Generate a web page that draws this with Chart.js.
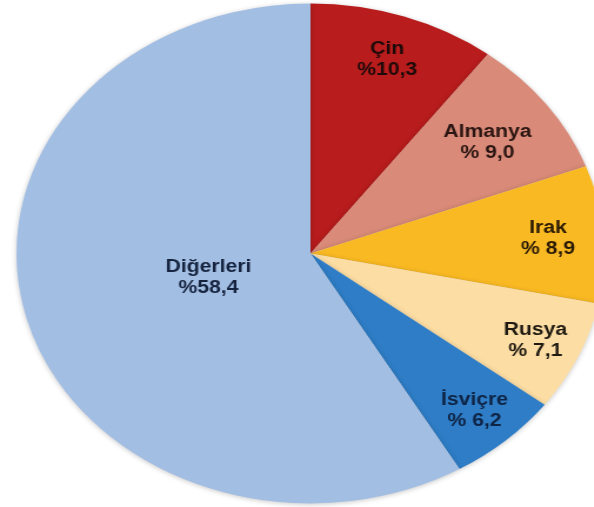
<!DOCTYPE html>
<html>
<head>
<meta charset="utf-8">
<script src="https://cdn.jsdelivr.net/npm/chart.js@4"></script>
<style>
  html, body { margin: 0; padding: 0; background: #fff; overflow: hidden; }
  #wrap { width: 594px; height: 507px; overflow: hidden; }
  #pie { transform-origin: 0 0; transform: scaleX(1.176); }
</style>
</head>
<body>
<div id="wrap"><canvas id="pie" width="514" height="507"></canvas></div>
<script>
// ülkeler ve payları (%)
const countries = ['Çin', 'Almanya', 'Irak', 'Rusya', 'İsviçre', 'Diğerleri'];
const shares = [10.3, 9.0, 8.9, 7.1, 6.2, 58.4];
const sliceColors = ['#B81C1C', '#D98A78', '#F9B923', '#FCDDA3', '#2E7DC6', '#A3BEE3'];

// label distance from centre, as fraction of radius
const labelRadius = [0.82, 0.75, 0.81, 0.84, 0.84, 0.36];
const labelColors = ['#1e0a0a', '#2a1512', '#2a1a05', '#1f1a12', '#0f2445', '#15233f'];

function pct(v) {
    const s = v.toFixed(1).replace('.', ',');
    return v < 10 ? '% ' + s : '%' + s;
}

const sliceLabels = {
    id: 'sliceLabels',
    afterDatasetsDraw(chart) {
        const ctx = chart.ctx;
        const arcs = chart.getDatasetMeta(0).data;
        ctx.save();
        ctx.font = 'bold 18px "Liberation Sans", Arial, sans-serif';
        ctx.textAlign = 'center';
        ctx.textBaseline = 'middle';
        arcs.forEach((arc, i) => {
            const mid = (arc.startAngle + arc.endAngle) / 2;
            const r = arc.outerRadius * labelRadius[i];
            const x = arc.x + Math.cos(mid) * r;
            const y = arc.y + Math.sin(mid) * r;
            ctx.fillStyle = labelColors[i];
            ctx.fillText(countries[i], x, y - 10);
            ctx.fillText(pct(shares[i]), x, y + 11);
        });
        ctx.restore();
    }
};

const pieShadow = {
    id: 'pieShadow',
    beforeDatasetsDraw(chart) {
        const ctx = chart.ctx;
        ctx.save();
        ctx.shadowColor = 'rgba(0,0,0,0.22)';
        ctx.shadowBlur = 5;
        ctx.shadowOffsetY = 1;
    },
    afterDatasetsDraw(chart) {
        chart.ctx.restore();
    }
};

new Chart(document.getElementById('pie').getContext('2d'), {
    type: 'pie',
    data: {
        labels: countries,
        datasets: [{
            data: shares,
            backgroundColor: sliceColors,
            borderWidth: 0
        }]
    },
    options: {
        responsive: false,
        animation: false,
        layout: { padding: { left: 14, right: 0, top: 3.5, bottom: 3.5 } },
        plugins: {
            legend: { display: false },
            tooltip: { enabled: false }
        }
    },
    plugins: [pieShadow, sliceLabels]
});
</script>
</body>
</html>
